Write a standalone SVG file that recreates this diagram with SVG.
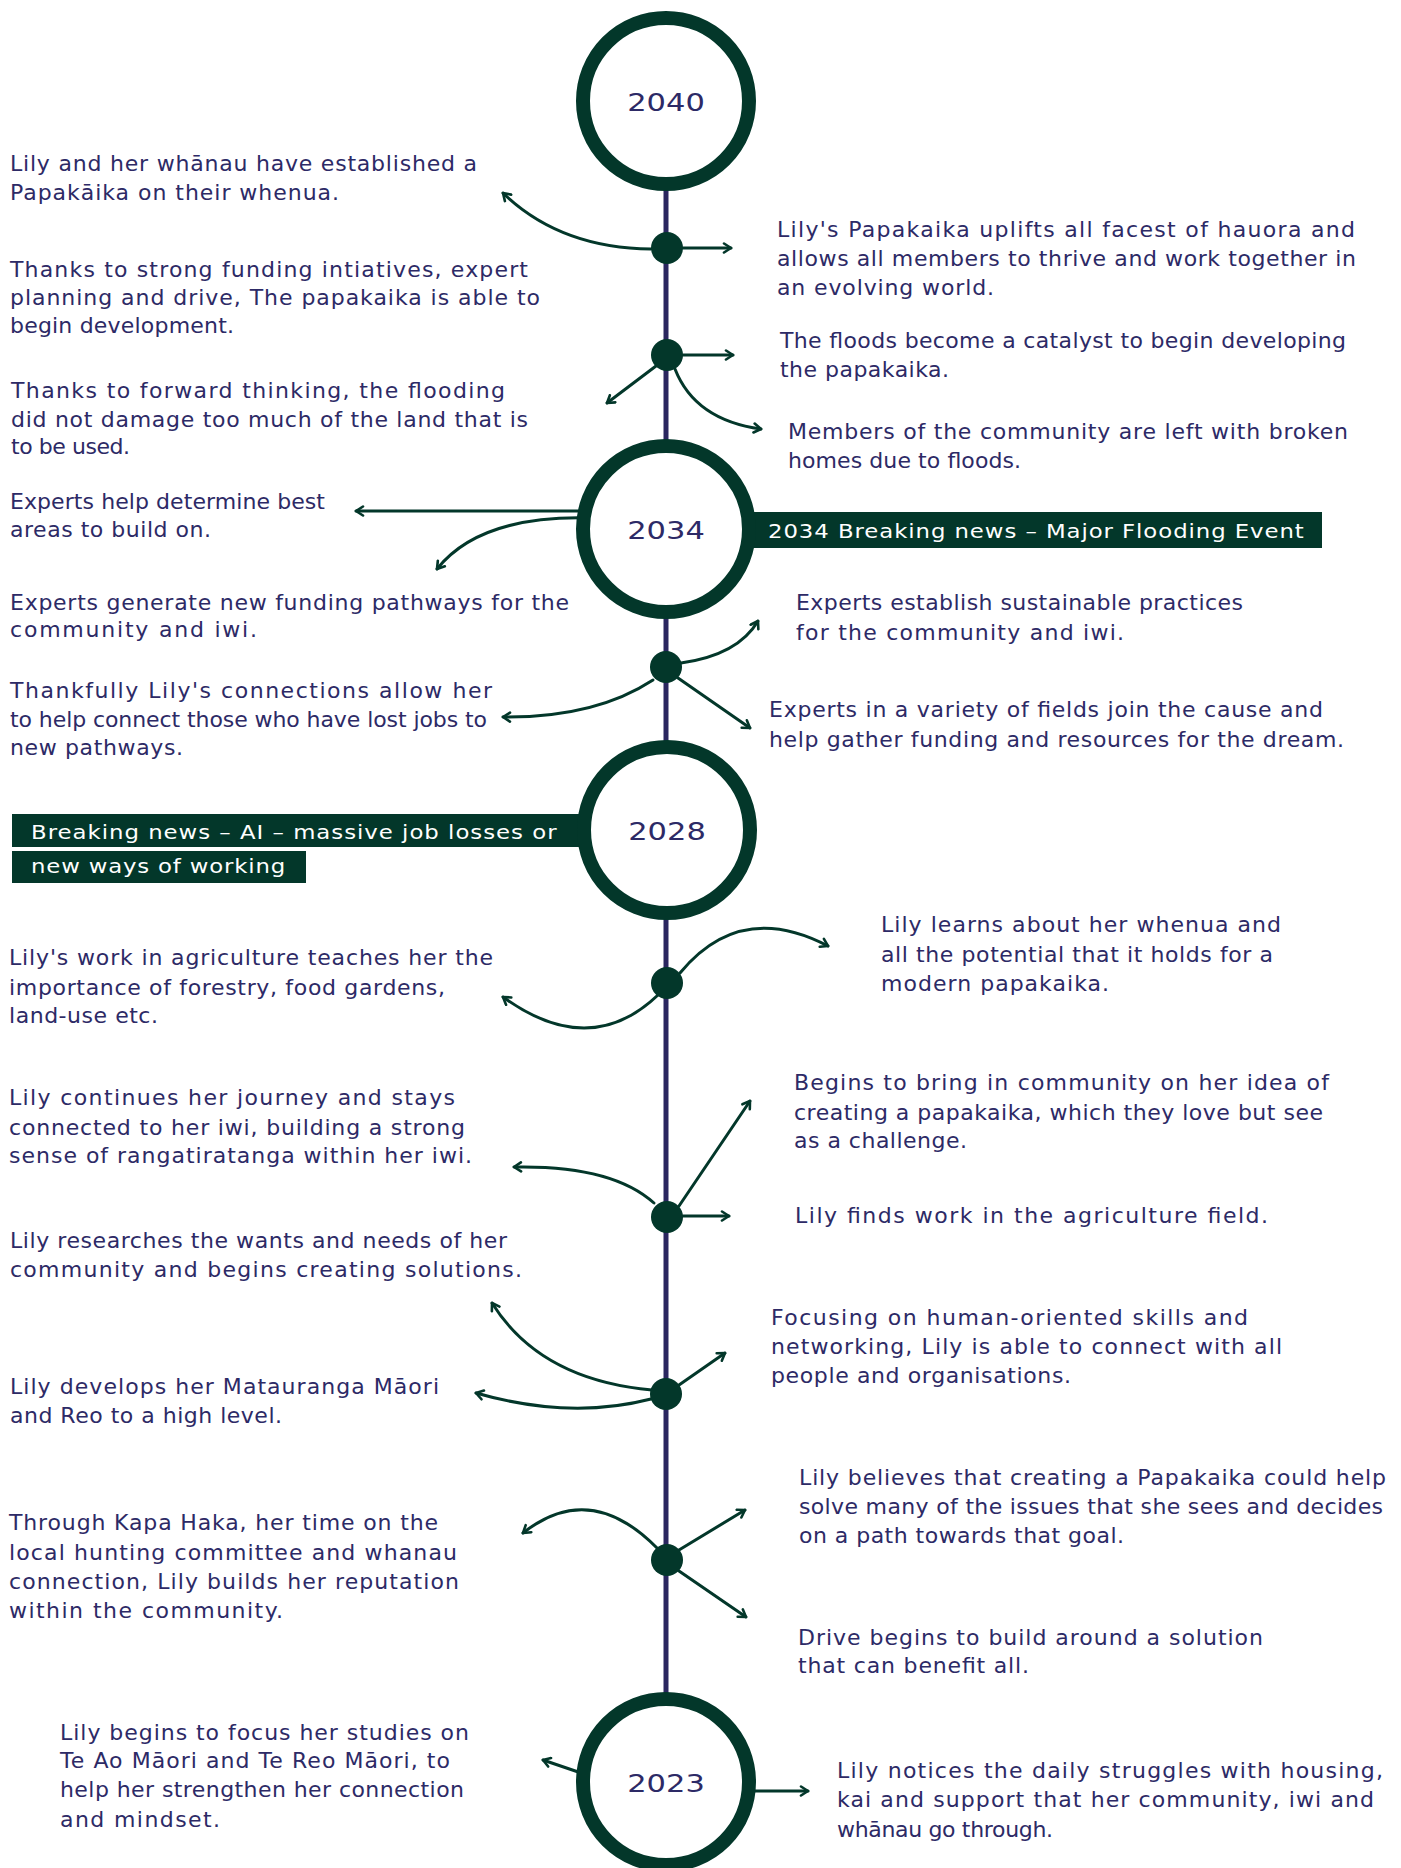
<svg xmlns="http://www.w3.org/2000/svg" width="1401" height="1868" viewBox="0 0 1401 1868">
  <style>
    .t { font-family: "DejaVu Sans", "Liberation Sans", sans-serif; font-size: 22px; fill: #2d2a66; }
    .yr { font-family: "DejaVu Sans", "Liberation Sans", sans-serif; font-size: 25px; fill: #2d2a66; text-anchor: middle; }
    .bn { font-family: "DejaVu Sans", "Liberation Sans", sans-serif; font-size: 20px; fill: #ffffff; }
    .ring { fill: #ffffff; stroke: #03372a; stroke-width: 14; }
    .dot { fill: #03372a; }
    .band { fill: #03372a; }
    .spine { stroke: #2a265f; stroke-width: 5; fill: none; }
    .arrow { stroke: #03372a; stroke-width: 3; fill: none; stroke-linecap: round; marker-end: url(#ah); }
  </style>
  <defs>
    <marker id="ah" viewBox="0 0 12 12" refX="10" refY="6" markerWidth="12" markerHeight="12" markerUnits="userSpaceOnUse" orient="auto">
      <path d="M3,1.5 L10,6 L3,10.5" fill="none" stroke="#03372a" stroke-width="2.6" stroke-linecap="round" stroke-linejoin="round"/>
    </marker>
  </defs>
  <rect width="1401" height="1868" fill="#ffffff"/>

  <!-- timeline spine and arrows -->
  <g id="connectors">
    <line class="spine" x1="666" y1="180" x2="666" y2="1700"/>
    <!-- 2040 branch dot -->
    <path class="arrow" d="M683 248 L731 248"/>
    <path class="arrow" d="M651 249 Q560 248 503 193"/>
    <!-- flood branch dot -->
    <path class="arrow" d="M683 355 L733 355"/>
    <path class="arrow" d="M656 366 L607 403"/>
    <path class="arrow" d="M675 369 Q695 420 761 429"/>
    <!-- 2034 -->
    <path class="arrow" d="M590 511 L356 511"/>
    <path class="arrow" d="M590 518 Q480 515 437 569"/>
    <!-- experts dot -->
    <path class="arrow" d="M681 663 Q738 655 758 621"/>
    <path class="arrow" d="M678 678 L750 728"/>
    <path class="arrow" d="M653 680 Q595 718 503 717"/>
    <!-- agriculture dot -->
    <path class="arrow" d="M658 995 Q590 1060 503 997"/>
    <path class="arrow" d="M680 973 Q740 900 828 946"/>
    <!-- community dot -->
    <path class="arrow" d="M654 1203 Q612 1165 514 1167"/>
    <path class="arrow" d="M679 1206 L750 1101"/>
    <path class="arrow" d="M683 1216 L729 1216"/>
    <!-- skills dot -->
    <path class="arrow" d="M652 1390 Q540 1380 492 1303"/>
    <path class="arrow" d="M651 1399 Q570 1420 476 1393"/>
    <path class="arrow" d="M679 1385 L725 1353"/>
    <!-- drive dot -->
    <path class="arrow" d="M657 1548 Q590 1480 523 1533"/>
    <path class="arrow" d="M679 1550 L745 1510"/>
    <path class="arrow" d="M679 1571 L746 1617"/>
    <!-- 2023 -->
    <path class="arrow" d="M590 1776 L543 1760"/>
    <path class="arrow" d="M740 1791 L808 1791"/>
  </g>

  <!-- news banners -->
  <g id="banner-2034">
    <rect class="band" x="700" y="512" width="622" height="36"/>
    <text class="bn" transform="translate(768 538) scale(1.14 1)" textLength="470" lengthAdjust="spacing">2034 Breaking news – Major Flooding Event</text>
  </g>
  <g id="banner-2028">
    <rect class="band" x="12" y="814" width="610" height="33"/>
    <rect class="band" x="12" y="851" width="294" height="32"/>
    <text class="bn" transform="translate(31 839) scale(1.14 1)" textLength="461" lengthAdjust="spacing">Breaking news – AI – massive job losses or</text>
    <text class="bn" transform="translate(31 873) scale(1.14 1)" textLength="223" lengthAdjust="spacing">new ways of working</text>
  </g>

  <!-- year markers -->
  <g id="year-2040">
    <circle class="ring" cx="666" cy="101" r="83"/>
    <text class="yr" transform="translate(666 111) scale(1.22 1)">2040</text>
  </g>
  <g id="year-2034">
    <circle class="ring" cx="666" cy="529" r="83"/>
    <text class="yr" transform="translate(666 539) scale(1.22 1)">2034</text>
  </g>
  <g id="year-2028">
    <circle class="ring" cx="667" cy="830" r="83"/>
    <text class="yr" transform="translate(667 840) scale(1.22 1)">2028</text>
  </g>
  <g id="year-2023">
    <circle class="ring" cx="666" cy="1782" r="83"/>
    <text class="yr" transform="translate(666 1792) scale(1.22 1)">2023</text>
  </g>

  <!-- branch points on the spine -->
  <g id="dot-1"><circle class="dot" cx="667" cy="248" r="16"/></g>
  <g id="dot-2"><circle class="dot" cx="667" cy="355" r="16"/></g>
  <g id="dot-3"><circle class="dot" cx="666" cy="667" r="16"/></g>
  <g id="dot-4"><circle class="dot" cx="667" cy="983" r="16"/></g>
  <g id="dot-5"><circle class="dot" cx="667" cy="1217" r="16"/></g>
  <g id="dot-6"><circle class="dot" cx="666" cy="1394" r="16"/></g>
  <g id="dot-7"><circle class="dot" cx="667" cy="1560" r="16"/></g>

  <!-- left-hand notes -->
  <g id="note-papakaika-established">
    <text class="t" x="10" y="171" textLength="467" lengthAdjust="spacing">Lily and her whānau have established a</text>
    <text class="t" x="10" y="200" textLength="329" lengthAdjust="spacing">Papakāika on their whenua.</text>
  </g>
  <g id="note-funding-development">
    <text class="t" x="10" y="277" textLength="518" lengthAdjust="spacing">Thanks to strong funding intiatives, expert</text>
    <text class="t" x="10" y="305" textLength="530" lengthAdjust="spacing">planning and drive, The papakaika is able to</text>
    <text class="t" x="10" y="333" textLength="224" lengthAdjust="spacing">begin development.</text>
  </g>
  <g id="note-forward-thinking">
    <text class="t" x="11" y="398" textLength="494" lengthAdjust="spacing">Thanks to forward thinking, the flooding</text>
    <text class="t" x="11" y="427" textLength="517" lengthAdjust="spacing">did not damage too much of the land that is</text>
    <text class="t" x="11" y="454" textLength="119" lengthAdjust="spacing">to be used.</text>
  </g>
  <g id="note-best-areas">
    <text class="t" x="10" y="509" textLength="315" lengthAdjust="spacing">Experts help determine best</text>
    <text class="t" x="10" y="537" textLength="201" lengthAdjust="spacing">areas to build on.</text>
  </g>
  <g id="note-funding-pathways">
    <text class="t" x="10" y="610" textLength="559" lengthAdjust="spacing">Experts generate new funding pathways for the</text>
    <text class="t" x="10" y="637" textLength="247" lengthAdjust="spacing">community and iwi.</text>
  </g>
  <g id="note-connections">
    <text class="t" x="10" y="698" textLength="482" lengthAdjust="spacing">Thankfully Lily's connections allow her</text>
    <text class="t" x="10" y="727" textLength="477" lengthAdjust="spacing">to help connect those who have lost jobs to</text>
    <text class="t" x="10" y="755" textLength="173" lengthAdjust="spacing">new pathways.</text>
  </g>
  <g id="note-agriculture-lessons">
    <text class="t" x="9" y="965" textLength="484" lengthAdjust="spacing">Lily's work in agriculture teaches her the</text>
    <text class="t" x="9" y="995" textLength="436" lengthAdjust="spacing">importance of forestry, food gardens,</text>
    <text class="t" x="9" y="1023" textLength="149" lengthAdjust="spacing">land-use etc.</text>
  </g>
  <g id="note-rangatiratanga">
    <text class="t" x="9" y="1105" textLength="446" lengthAdjust="spacing">Lily continues her journey and stays</text>
    <text class="t" x="9" y="1135" textLength="456" lengthAdjust="spacing">connected to her iwi, building a strong</text>
    <text class="t" x="9" y="1163" textLength="463" lengthAdjust="spacing">sense of rangatiratanga within her iwi.</text>
  </g>
  <g id="note-research">
    <text class="t" x="10" y="1248" textLength="497" lengthAdjust="spacing">Lily researches the wants and needs of her</text>
    <text class="t" x="10" y="1277" textLength="512" lengthAdjust="spacing">community and begins creating solutions.</text>
  </g>
  <g id="note-matauranga">
    <text class="t" x="10" y="1394" textLength="429" lengthAdjust="spacing">Lily develops her Matauranga Māori</text>
    <text class="t" x="10" y="1423" textLength="272" lengthAdjust="spacing">and Reo to a high level.</text>
  </g>
  <g id="note-kapa-haka">
    <text class="t" x="9" y="1530" textLength="429" lengthAdjust="spacing">Through Kapa Haka, her time on the</text>
    <text class="t" x="9" y="1560" textLength="448" lengthAdjust="spacing">local hunting committee and whanau</text>
    <text class="t" x="9" y="1589" textLength="450" lengthAdjust="spacing">connection, Lily builds her reputation</text>
    <text class="t" x="9" y="1618" textLength="274" lengthAdjust="spacing">within the community.</text>
  </g>
  <g id="note-studies">
    <text class="t" x="60" y="1740" textLength="409" lengthAdjust="spacing">Lily begins to focus her studies on</text>
    <text class="t" x="60" y="1768" textLength="390" lengthAdjust="spacing">Te Ao Māori and Te Reo Māori, to</text>
    <text class="t" x="60" y="1797" textLength="404" lengthAdjust="spacing">help her strengthen her connection</text>
    <text class="t" x="60" y="1827" textLength="160" lengthAdjust="spacing">and mindset.</text>
  </g>

  <!-- right-hand notes -->
  <g id="note-hauora">
    <text class="t" x="777" y="237" textLength="578" lengthAdjust="spacing">Lily's Papakaika uplifts all facest of hauora and</text>
    <text class="t" x="777" y="266" textLength="579" lengthAdjust="spacing">allows all members to thrive and work together in</text>
    <text class="t" x="777" y="295" textLength="217" lengthAdjust="spacing">an evolving world.</text>
  </g>
  <g id="note-catalyst">
    <text class="t" x="780" y="348" textLength="566" lengthAdjust="spacing">The floods become a catalyst to begin developing</text>
    <text class="t" x="780" y="377" textLength="169" lengthAdjust="spacing">the papakaika.</text>
  </g>
  <g id="note-broken-homes">
    <text class="t" x="788" y="439" textLength="560" lengthAdjust="spacing">Members of the community are left with broken</text>
    <text class="t" x="788" y="468" textLength="233" lengthAdjust="spacing">homes due to floods.</text>
  </g>
  <g id="note-sustainable">
    <text class="t" x="796" y="610" textLength="447" lengthAdjust="spacing">Experts establish sustainable practices</text>
    <text class="t" x="796" y="640" textLength="328" lengthAdjust="spacing">for the community and iwi.</text>
  </g>
  <g id="note-experts-join">
    <text class="t" x="769" y="717" textLength="554" lengthAdjust="spacing">Experts in a variety of fields join the cause and</text>
    <text class="t" x="769" y="747" textLength="575" lengthAdjust="spacing">help gather funding and resources for the dream.</text>
  </g>
  <g id="note-whenua">
    <text class="t" x="881" y="932" textLength="400" lengthAdjust="spacing">Lily learns about her whenua and</text>
    <text class="t" x="881" y="962" textLength="392" lengthAdjust="spacing">all the potential that it holds for a</text>
    <text class="t" x="881" y="991" textLength="228" lengthAdjust="spacing">modern papakaika.</text>
  </g>
  <g id="note-bring-community">
    <text class="t" x="794" y="1090" textLength="535" lengthAdjust="spacing">Begins to bring in community on her idea of</text>
    <text class="t" x="794" y="1120" textLength="529" lengthAdjust="spacing">creating a papakaika, which they love but see</text>
    <text class="t" x="794" y="1148" textLength="173" lengthAdjust="spacing">as a challenge.</text>
  </g>
  <g id="note-agriculture-work">
    <text class="t" x="795" y="1223" textLength="473" lengthAdjust="spacing">Lily finds work in the agriculture field.</text>
  </g>
  <g id="note-networking">
    <text class="t" x="771" y="1325" textLength="477" lengthAdjust="spacing">Focusing on human-oriented skills and</text>
    <text class="t" x="771" y="1354" textLength="511" lengthAdjust="spacing">networking, Lily is able to connect with all</text>
    <text class="t" x="771" y="1383" textLength="300" lengthAdjust="spacing">people and organisations.</text>
  </g>
  <g id="note-believes">
    <text class="t" x="799" y="1485" textLength="587" lengthAdjust="spacing">Lily believes that creating a Papakaika could help</text>
    <text class="t" x="799" y="1514" textLength="584" lengthAdjust="spacing">solve many of the issues that she sees and decides</text>
    <text class="t" x="799" y="1543" textLength="325" lengthAdjust="spacing">on a path towards that goal.</text>
  </g>
  <g id="note-drive">
    <text class="t" x="798" y="1645" textLength="465" lengthAdjust="spacing">Drive begins to build around a solution</text>
    <text class="t" x="798" y="1673" textLength="231" lengthAdjust="spacing">that can benefit all.</text>
  </g>
  <g id="note-struggles">
    <text class="t" x="837" y="1778" textLength="546" lengthAdjust="spacing">Lily notices the daily struggles with housing,</text>
    <text class="t" x="837" y="1807" textLength="537" lengthAdjust="spacing">kai and support that her community, iwi and</text>
    <text class="t" x="837" y="1837" textLength="216" lengthAdjust="spacing">whānau go through.</text>
  </g>
</svg>
